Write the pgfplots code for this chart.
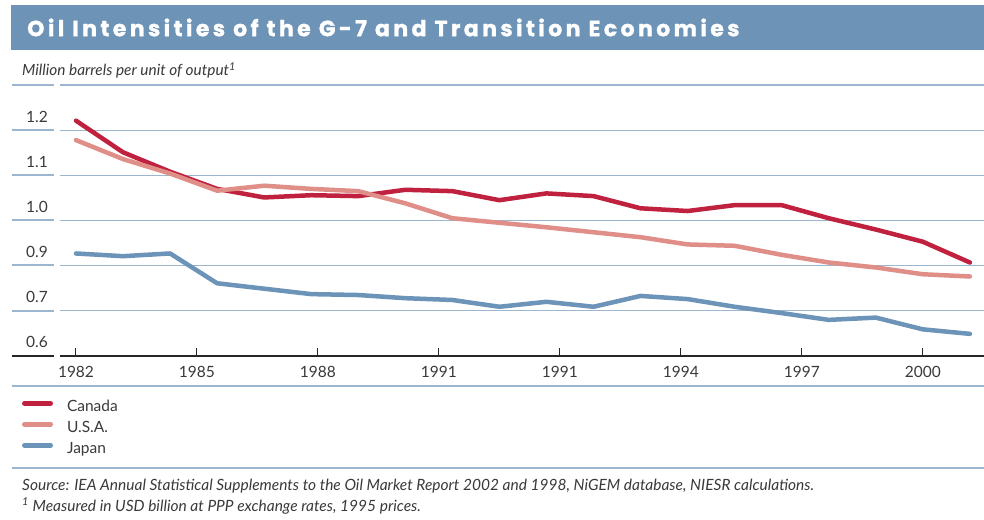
\documentclass[border=0pt]{standalone}
\usepackage{fontspec}
\setmainfont{Lato}
\newfontfamily\titlefont{Poppins}[LetterSpace=15.5, BoldFeatures={FakeBold=1.2}]
\usepackage{pgfplots}
\pgfplotsset{compat=1.18}

\definecolor{canada}{HTML}{C0213F}
\definecolor{usa}{HTML}{DF8E88}
\definecolor{japan}{HTML}{6C93B8}
\definecolor{banner}{HTML}{6D93B6}
\definecolor{gridc}{HTML}{9DB6CF}
\definecolor{txt}{HTML}{3A3A3A}

% index 0 = 1982, one point per year
\pgfplotstableread{
x canada usa japan
0  1.121 1.078 0.827
1  1.051 1.036 0.821
2  1.008 1.004 0.827
3  0.970 0.966 0.761
4  0.951 0.977 0.749
5  0.956 0.970 0.737
6  0.954 0.965 0.735
7  0.968 0.938 0.728
8  0.965 0.905 0.724
9  0.945 0.895 0.709
10 0.960 0.885 0.720
11 0.954 0.874 0.709
12 0.927 0.863 0.733
13 0.921 0.847 0.726
14 0.934 0.844 0.709
15 0.934 0.824 0.695
16 0.905 0.807 0.680
17 0.880 0.796 0.685
18 0.853 0.781 0.659
19 0.807 0.776 0.649
}\oil

\begin{document}
\begin{tikzpicture}[x=1pt,y=1pt]
\path[use as bounding box, fill=white] (0,0) rectangle (984,519);

% title banner
\fill[banner] (11,469) rectangle (984,514);
\node[anchor=west, text=white, inner sep=0pt,
      font=\titlefont\bfseries\fontsize{22}{24}\selectfont] at (27,491.5)
  {Oil Intensities of the G-7 and Transition Economies};
\node[anchor=base west, inner sep=0pt, text=txt,
      font=\itshape\fontsize{15.4}{17}\selectfont] at (22,443)
  {Million barrels per unit of output\textsuperscript{1}};

% left stubs of the grid lines
\foreach \yy in {434,389,344,299,254,208}
  \draw[gridc, line width=1.2pt] (12,\yy) -- (54,\yy);
\draw[black!85, line width=1.2pt] (12,163) -- (54,163);
\draw[gridc, line width=1.2pt] (12,133) -- (984,133);
\draw[gridc, line width=1.2pt] (12,51) -- (984,51);

\begin{axis}[
    at={(60pt,163pt)}, anchor=south west,
    scale only axis, width=924pt, height=271pt,
    xmin=-0.34, xmax=19.3, ymin=0.6, ymax=1.2,
    axis lines*=left,
    y axis line style={draw=none},
    x axis line style={black!85, line width=1.2pt},
    ytick={0.6,0.7,0.8,0.9,1.0,1.1,1.2},
    yticklabels={0.6,0.7,0.9,1.0,1.1,1.2,{}},
    ymajorgrids,
    grid style={gridc, line width=1.2pt},
    y tick style={draw=none},
    yticklabel style={anchor=base west, inner sep=0pt, xshift=-34pt, yshift=8pt,
                      font=\fontsize{15.5}{19}\selectfont, text=txt},
    xtick={0,2.5714,5.1429,7.7143,10.2857,12.8571,15.4286,18},
    xticklabels={1982,1985,1988,1991,1991,1994,1997,2000},
    tick align=inside,
    major tick length=8pt,
    x tick style={black!85, line width=1pt},
    xticklabel style={anchor=base, inner sep=0pt, yshift=-22pt,
                      font=\fontsize{15.5}{19}\selectfont, text=txt},
    clip=false,
    legend style={at={(axis description cs:-0.0411,-0.1613)}, anchor=north west,
                  draw=none, fill=none, inner sep=0pt, outer sep=0pt,
                  row sep=5pt, column sep=14pt,
                  font=\fontsize{15.5}{19}\selectfont, text=txt,
                  nodes={inner sep=0pt, text height=12pt, text depth=4pt}},
    legend cell align=left,
    legend image code/.code={\draw[#1, line width=5pt] (0pt,4.5pt) -- (26pt,4.5pt);},
]
\addplot[canada, line width=4.5pt, line join=round, line cap=round] table[x=x, y=canada] {\oil};
\addlegendentry{Canada}
\addplot[usa, line width=4.5pt, line join=round, line cap=round] table[x=x, y=usa] {\oil};
\addlegendentry{U.S.A.}
\addplot[japan, line width=4.5pt, line join=round, line cap=round] table[x=x, y=japan] {\oil};
\addlegendentry{Japan}
\end{axis}

\node[anchor=base west, inner sep=0pt, text=txt,
      font=\itshape\fontsize{15.5}{17}\selectfont] at (22,28.5)
  {Source: IEA Annual Statistical Supplements to the Oil Market Report 2002 and 1998, NiGEM database, NIESR calculations.};
\node[anchor=base west, inner sep=0pt, text=txt,
      font=\itshape\fontsize{15.5}{17}\selectfont] at (22,8)
  {\textsuperscript{1} Measured in USD billion at PPP exchange rates, 1995 prices.};
\end{tikzpicture}
\end{document}
